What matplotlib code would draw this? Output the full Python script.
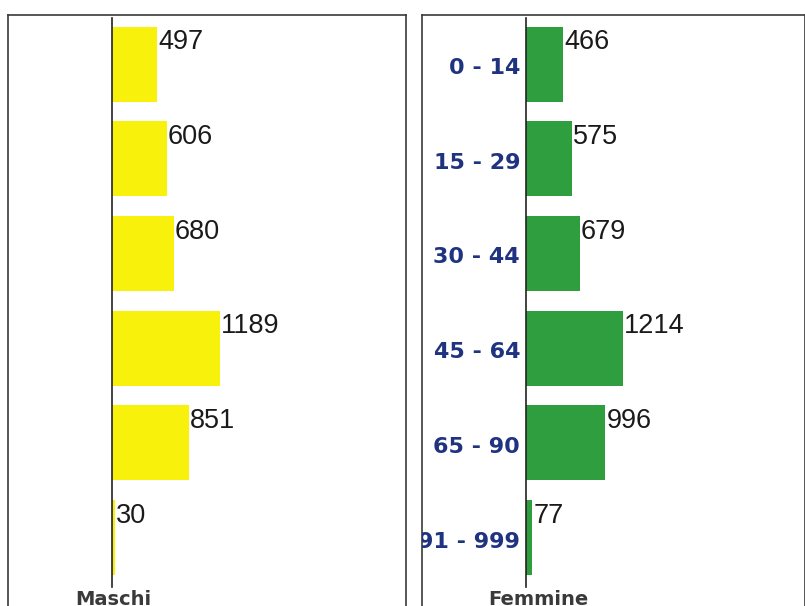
import matplotlib.pyplot as plt

# data
age_groups = ['0 - 14', '15 - 29', '30 - 44', '45 - 64', '65 - 90', '91 - 999']
maschi = [497, 606, 680, 1189, 851, 30]
femmine = [466, 575, 679, 1214, 996, 77]

W, H, DPI = 805, 606, 100
ROW = 94.7          # px between bar centres
FIRST = 64          # px, centre of first bar
TOP, BOT = 15, 620  # axes top / bottom in px (bottom runs off the figure)

fig = plt.figure(figsize=(W / DPI, H / DPI), dpi=DPI)
fig.patch.set_facecolor('white')


def px_axes(x0, x1):
    return fig.add_axes([x0 / W, (H - BOT) / H, (x1 - x0) / W, (BOT - TOP) / H])


def to_y(py):
    # pixel row -> data y
    return (py - FIRST) / ROW


def panel(x0, x1, zero, upp, values, color, title, title_dx, show_labels):
    ax = px_axes(x0, x1)
    ax.set_xlim(-(zero - x0) * upp, (x1 - zero) * upp)
    ax.set_ylim(to_y(BOT), to_y(TOP))
    ax.set_xticks([])
    ax.set_yticks([])
    for s in ['left', 'top', 'right']:
        ax.spines[s].set_color('#3a3a3a')
        ax.spines[s].set_linewidth(1.2)
    ax.spines['bottom'].set_visible(False)

    ypos = list(range(len(values)))
    ax.barh(ypos, values, height=75 / ROW, color=color, left=0)
    ax.plot([0, 0], [to_y(18), to_y(587)], color='#222222', lw=1.2)

    for y, v in zip(ypos, values):
        ax.annotate(str(v), (v + upp, y - 37.5 / ROW), xytext=(0, -2),
                    textcoords='offset points', ha='left', va='top',
                    fontsize=19.5, family='Liberation Sans', color='#1a1a1a')
    if show_labels:
        for y, lab in zip(ypos, age_groups):
            ax.text(-6 * upp, y + 4 / ROW, lab, ha='right', va='center',
                    fontsize=16, fontweight='bold', color='#1f3380',
                    family='DejaVu Sans', clip_on=True)
    ax.text(title_dx * upp, to_y(590), title, ha='center', va='top',
            fontsize=14, fontweight='bold', color='#3a3a3a',
            family='DejaVu Sans', clip_on=False)
    return ax


panel(8, 406, 112, 11.01, maschi, '#f8f10c', 'Maschi', 1, False)
panel(422, 805, 526, 12.55, femmine, '#2f9e3f', 'Femmine', 12, True)

fig.savefig('out.png', dpi=DPI, facecolor='white')
